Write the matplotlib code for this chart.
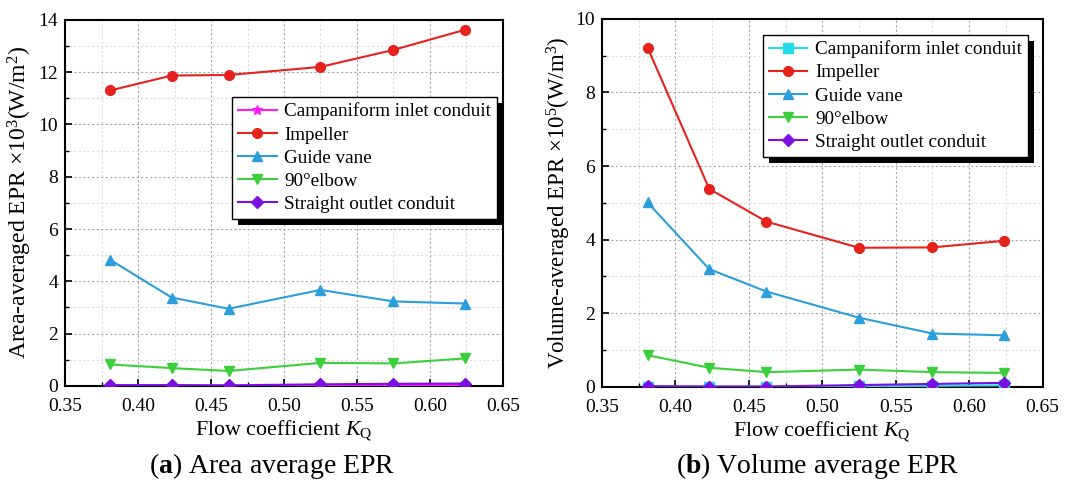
import matplotlib
matplotlib.use("Agg")
import matplotlib.pyplot as plt
from matplotlib.ticker import MultipleLocator
from matplotlib.patches import Rectangle

# ---------------- data ----------------
kq = [0.381, 0.423, 0.462, 0.525, 0.575, 0.624]
series_names = ["Campaniform inlet conduit", "Impeller", "Guide vane",
                "90\u00b0elbow", "Straight outlet conduit"]

area_campaniform = [0.01, 0.01, 0.01, 0.02, 0.03, 0.03]
area_impeller = [11.30, 11.87, 11.89, 12.20, 12.85, 13.62]
area_guide = [4.82, 3.38, 2.95, 3.67, 3.23, 3.15]
area_elbow = [0.82, 0.68, 0.57, 0.88, 0.86, 1.05]
area_outlet = [0.03, 0.03, 0.02, 0.06, 0.08, 0.09]

vol_campaniform = [0.01, 0.01, 0.01, 0.02, 0.03, 0.04]
vol_impeller = [9.22, 5.38, 4.49, 3.78, 3.79, 3.97]
vol_guide = [5.01, 3.20, 2.59, 1.88, 1.45, 1.40]
vol_elbow = [0.86, 0.52, 0.40, 0.47, 0.40, 0.38]
vol_outlet = [0.02, 0.01, 0.01, 0.05, 0.08, 0.11]

# ---------------- style ----------------
plt.rcParams['font.family'] = ['Liberation Serif', 'DejaVu Serif']
plt.rcParams['mathtext.fontset'] = 'custom'
plt.rcParams['mathtext.rm'] = 'Liberation Serif'
plt.rcParams['mathtext.it'] = 'Liberation Serif:italic'
plt.rcParams['mathtext.bf'] = 'Liberation Serif:bold'

fig = plt.figure(figsize=(10.77, 4.96), dpi=100)
ax1 = fig.add_axes([0.0604, 0.222, 0.4066, 0.738])
ax2 = fig.add_axes([0.559, 0.220, 0.409, 0.742])

red = '#e5221c'
blue = '#2c9edb'
green = '#3ccf3c'
purple = '#7a10e0'


def style_axes(ax, ymax, ymajor):
    ax.set_xlim(0.35, 0.65)
    ax.set_ylim(0, ymax)
    ax.xaxis.set_major_locator(MultipleLocator(0.05))
    ax.xaxis.set_minor_locator(MultipleLocator(0.025))
    ax.yaxis.set_major_locator(MultipleLocator(ymajor))
    ax.yaxis.set_minor_locator(MultipleLocator(ymajor / 2))
    ax.xaxis.set_major_formatter(matplotlib.ticker.FormatStrFormatter('%.2f'))
    ax.grid(which='major', linestyle=(0, (2, 2)), color='#a8a8a8', linewidth=0.8)
    ax.grid(which='minor', linestyle=(0, (2, 2)), color='#dcdcdc', linewidth=0.8)
    ax.set_axisbelow(True)
    ax.tick_params(which='major', direction='in', length=5, width=1.2,
                   labelsize=14)
    ax.tick_params(axis='x', which='major', pad=9)
    ax.tick_params(axis='y', which='major', pad=5)
    ax.tick_params(which='minor', direction='in', length=3, width=1.0)
    for s in ax.spines.values():
        s.set_linewidth(1.5)
    ax.set_xlabel(r'Flow coefficient $K_\mathrm{Q}$', fontsize=15.8, labelpad=2)


def plot_set(ax, camp, camp_color, camp_marker, imp, gui, elb, out):
    lw = 1.5
    ms = 7
    ax.plot(kq, camp, color=camp_color, marker=camp_marker, lw=lw, ms=ms,
            label=series_names[0], zorder=3)
    ax.plot(kq, imp, color=red, marker='o', lw=lw, ms=ms, label=series_names[1], zorder=3)
    ax.plot(kq, gui, color=blue, marker='^', lw=lw, ms=ms, label=series_names[2], zorder=3)
    ax.plot(kq, elb, color=green, marker='v', lw=lw, ms=ms, label=series_names[3], zorder=3)
    ax.plot(kq, out, color=purple, marker='D', lw=lw, ms=6, label=series_names[4], zorder=3)


plot_set(ax1, area_campaniform, '#ff1aff', '*', area_impeller, area_guide,
         area_elbow, area_outlet)
plot_set(ax2, vol_campaniform, '#22dcec', 's', vol_impeller, vol_guide,
         vol_elbow, vol_outlet)

style_axes(ax1, 14, 2)
style_axes(ax2, 10, 2)

ax1.set_ylabel(r'Area-averaged EPR $\times$10$^3$(W/m$^2$)', fontsize=17)
ax2.set_ylabel(r'Volume-averaged EPR $\times$10$^5$(W/m$^3$)', fontsize=16.5)
ax1.yaxis.set_label_coords(-0.071, 0.5)
ax2.yaxis.set_label_coords(-0.066, 0.5)

leg_kw = dict(fontsize=13.8, frameon=True, fancybox=False, framealpha=1,
              edgecolor='black', borderaxespad=0, handlelength=2.0,
              labelspacing=0.3, borderpad=0.3, handletextpad=0.4)
l1 = ax1.legend(loc='upper right', bbox_to_anchor=(0.986, 0.79), **leg_kw)
l2 = ax2.legend(loc='upper right', bbox_to_anchor=(0.966, 0.957), **leg_kw)
for l in (l1, l2):
    l.get_frame().set_linewidth(1.0)

fig.text(0.2525, 0.06, r'($\mathbf{a}$) Area average EPR', fontsize=20,
         ha='center', va='center')
fig.text(0.7595, 0.06, r'($\mathbf{b}$) Volume average EPR', fontsize=20,
         ha='center', va='center')

# solid black drop shadow behind each legend box
fig.canvas.draw()
renderer = fig.canvas.get_renderer()
for ax, l in ((ax1, l1), (ax2, l2)):
    bb = l.get_frame().get_window_extent(renderer)
    sh = Rectangle((bb.x0 + 6, bb.y0 - 6), bb.width, bb.height, transform=None,
                   facecolor='black', edgecolor='none', zorder=4.9, clip_on=False)
    ax.add_artist(sh)

fig.savefig('out.png', dpi=100, facecolor='white')
